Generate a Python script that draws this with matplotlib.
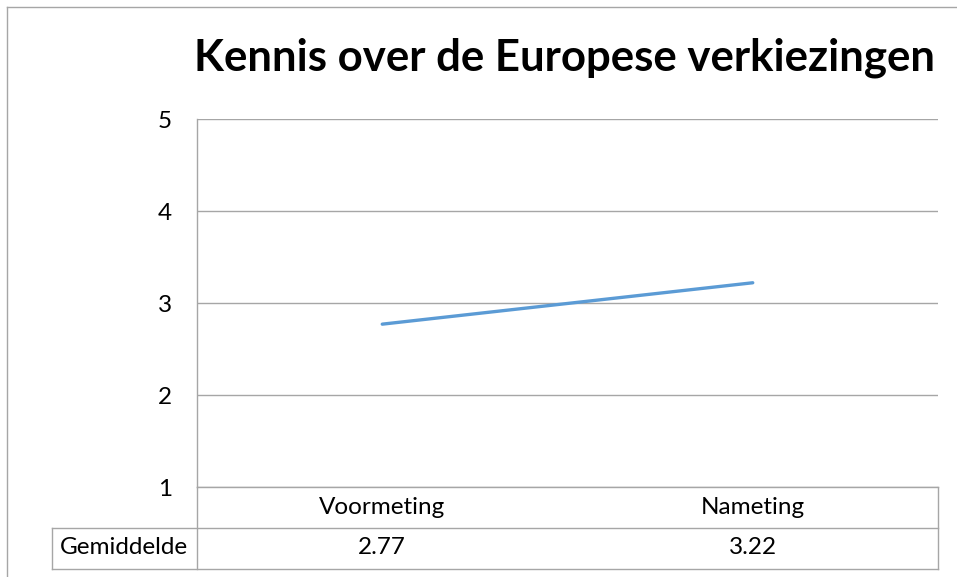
import matplotlib.pyplot as plt
from matplotlib.lines import Line2D

plt.rcParams['font.family'] = ['Lato', 'DejaVu Sans']

title = "Kennis over de Europese verkiezingen"
categories = ["Voormeting", "Nameting"]
row_label = "Gemiddelde"
values = [2.77, 3.22]

W, H = 957, 577
fig = plt.figure(figsize=(W / 100, H / 100), dpi=100)

def fx(px):
    return px / W

def fy(py):
    return 1 - py / H

# plot area in pixels
L, R, T, B = 197, 938, 119, 487
ax = fig.add_axes([fx(L), fy(B), fx(R - L), fy(T) - fy(B)])

grey = '#a6a6a6'
fs = 17.5
x = list(range(len(categories)))
ax.plot(x, values, color='#5b9bd5', lw=2.4, solid_capstyle='round')
ax.set_xlim(-0.5, len(categories) - 0.5)
ax.set_ylim(1, 5)
ax.set_yticks([1, 2, 3, 4, 5])
ax.set_yticklabels(['1', '2', '3', '4', '5'], fontsize=fs)
ax.tick_params(axis='y', length=0, pad=18)
ax.set_xticks([])
ax.yaxis.grid(True, color=grey, lw=1)
ax.set_axisbelow(True)
for s in ['top', 'right']:
    ax.spines[s].set_visible(False)
for s in ['left', 'bottom']:
    ax.spines[s].set_color(grey)
    ax.spines[s].set_linewidth(1)

fig.text(fx(564), fy(58), title, fontsize=31.5, fontweight='bold',
         ha='center', va='center')

# data table below the plot
def hline(y, x0, x1):
    fig.add_artist(Line2D([fx(x0), fx(x1)], [fy(y), fy(y)], color=grey, lw=1))

def vline(x0, y0, y1):
    fig.add_artist(Line2D([fx(x0), fx(x0)], [fy(y0), fy(y1)], color=grey, lw=1))

hline(528, 52, R)
hline(569, 52, R)
vline(L, B, 569)
vline(R, B, 569)
vline(52, 528, 569)

colw = (R - L) / len(categories)
for i, (c, v) in enumerate(zip(categories, values)):
    cx = L + colw * (i + 0.5)
    fig.text(fx(cx), fy(507), c, fontsize=fs, ha='center', va='center')
    fig.text(fx(cx), fy(548), f"{v:.2f}", fontsize=fs, ha='center', va='center')
fig.text(fx(124), fy(548), row_label, fontsize=fs, ha='center', va='center')

# chart area border
fig.add_artist(Line2D([fx(7), fx(7)], [fy(7), 0], color=grey, lw=1))
fig.add_artist(Line2D([fx(7), 1], [fy(7), fy(7)], color=grey, lw=1))

fig.savefig('out.png', dpi=100)
